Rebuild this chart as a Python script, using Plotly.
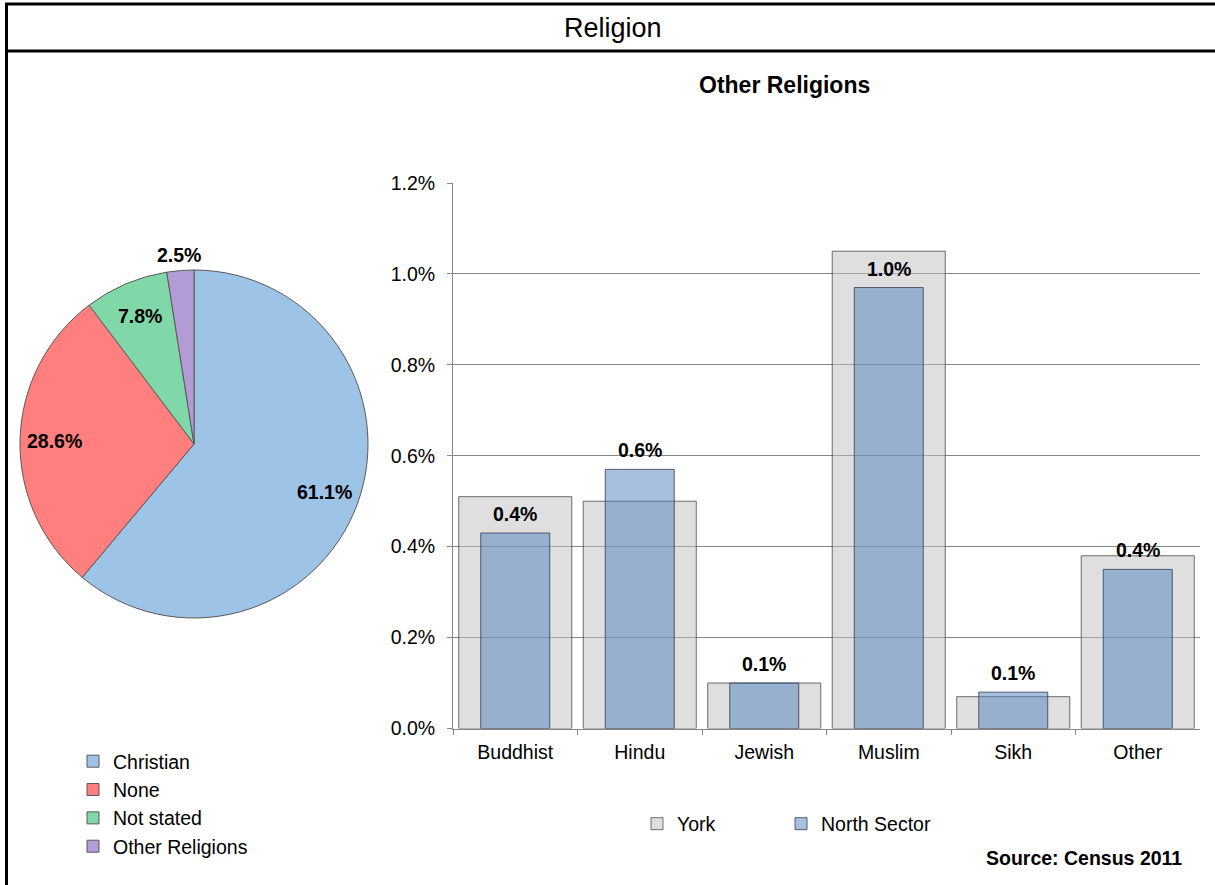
import math
import plotly.graph_objects as go

W, H = 1215, 885


def px(x):
    return x / W


def py(y):
    return 1 - y / H


FONT = "Liberation Sans, Arial, sans-serif"

# ---------------- data ----------------
pie_labels = ["Christian", "None", "Not stated", "Other Religions"]
pie_values = [61.1, 28.6, 7.8, 2.5]
pie_text = ["61.1%", "28.6%", "7.8%", "2.5%"]
pie_colors = ["#9dc3e6", "#ff7f7f", "#80d8a8", "#b39bd6"]

categories = ["Buddhist", "Hindu", "Jewish", "Muslim", "Sikh", "Other"]
york = [0.0051, 0.0050, 0.0010, 0.0105, 0.0007, 0.0038]
north = [0.0043, 0.0057, 0.0010, 0.0097, 0.0008, 0.0035]
north_labels = ["0.4%", "0.6%", "0.1%", "1.0%", "0.1%", "0.4%"]
y_ticks = [0.0, 0.002, 0.004, 0.006, 0.008, 0.010, 0.012]

# ---------------- layout geometry ----------------
pie_cx, pie_cy, pie_r = 194, 444, 174
bar_x0, bar_x1, bar_y0, bar_y1 = 453, 1200, 183, 728.5
TXT = 19.5

fig = go.Figure()

fig.add_trace(go.Pie(
    labels=pie_labels, values=pie_values,
    sort=False, direction="clockwise", rotation=0,
    marker=dict(colors=pie_colors, line=dict(color="#595959", width=1)),
    textinfo="none", hoverinfo="label+percent",
    domain=dict(x=[px(pie_cx - pie_r), px(pie_cx + pie_r)],
                y=[py(pie_cy + pie_r), py(pie_cy - pie_r)]),
    legend="legend",
))

fig.add_trace(go.Bar(
    x=categories, y=york, name="York", width=0.908,
    marker=dict(color="rgba(191,191,191,0.5)",
                line=dict(color="rgba(64,64,64,0.75)", width=1)),
    legend="legend2",
))
fig.add_trace(go.Bar(
    x=categories, y=north, name="North Sector", width=0.554,
    marker=dict(color="rgba(79,129,189,0.5)",
                line=dict(color="rgba(50,60,80,0.8)", width=1)),
    legend="legend3",
))

annotations = []

# pie percentage labels, positioned from the slice angles
total = sum(pie_values)
cum = 0.0
for v, t in zip(pie_values, pie_text):
    mid = (cum + v / 2) / total
    cum += v
    theta = 2 * math.pi * mid
    rf = 1.09 if v / total < 0.05 else 0.80
    lx = pie_cx + rf * pie_r * math.sin(theta)
    ly = pie_cy - rf * pie_r * math.cos(theta)
    annotations.append(dict(x=px(lx), y=py(ly), xref="paper", yref="paper",
                            xanchor="center", yanchor="middle",
                            text=f"<b>{t}</b>", showarrow=False,
                            font=dict(family=FONT, size=TXT, color="#000000")))

# bar value labels above North Sector bars
for c, v, t in zip(categories, north, north_labels):
    annotations.append(dict(x=c, y=v, xref="x", yref="y", text=f"<b>{t}</b>",
                            showarrow=False, xanchor="center", yanchor="middle", yshift=19,
                            font=dict(family=FONT, size=TXT, color="#000000")))

annotations += [
    dict(x=px(613), y=py(28), xref="paper", yref="paper", text="Religion",
         xanchor="center", yanchor="middle",
         showarrow=False, font=dict(family=FONT, size=27, color="#000000")),
    dict(x=px(785), y=py(85), xref="paper", yref="paper", text="<b>Other Religions</b>",
         xanchor="center", yanchor="middle",
         showarrow=False, font=dict(family=FONT, size=23, color="#000000")),
    dict(x=px(1184), y=py(858), xref="paper", yref="paper", text="<b>Source: Census 2011</b>",
         showarrow=False, xanchor="right", yanchor="middle",
         font=dict(family=FONT, size=TXT, color="#000000")),
]

shapes = [
    dict(type="line", xref="paper", yref="paper", x0=px(6.5), x1=px(6.5), y0=py(3), y1=py(885),
         line=dict(color="#000000", width=3)),
    dict(type="line", xref="paper", yref="paper", x0=px(5), x1=px(1215), y0=py(4), y1=py(4),
         line=dict(color="#000000", width=3)),
    dict(type="line", xref="paper", yref="paper", x0=px(5), x1=px(1215), y0=py(51), y1=py(51),
         line=dict(color="#000000", width=3)),
]

legend_font = dict(family=FONT, size=TXT, color="#000000")

fig.update_layout(
    width=W, height=H,
    margin=dict(l=0, r=0, t=0, b=0, autoexpand=False),
    paper_bgcolor="#ffffff", plot_bgcolor="#ffffff",
    barmode="overlay",
    font=dict(family=FONT, size=TXT, color="#000000"),
    showlegend=True,
    xaxis=dict(domain=[px(bar_x0), px(bar_x1)], showline=True, linecolor="#868686",
               linewidth=1, ticks="outside", tickson="boundaries", ticklen=5,
               tickcolor="#868686", tickfont=dict(family=FONT, size=TXT, color="#000000"),
               ticklabelstandoff=6,
               showgrid=False, fixedrange=True),
    yaxis=dict(domain=[py(bar_y1), py(bar_y0)], range=[0, 0.012], tickvals=y_ticks,
               tickformat=".1%", showline=True, linecolor="#868686", linewidth=1,
               ticks="outside", ticklen=5, tickcolor="#868686", ticklabelstandoff=8,
               showgrid=True, gridcolor="#868686", gridwidth=1, zeroline=False,
               tickfont=dict(family=FONT, size=TXT, color="#000000"), fixedrange=True),
    legend=dict(x=px(73), y=py(742), xanchor="left", yanchor="top",
                orientation="v", bgcolor="rgba(0,0,0,0)", font=legend_font, itemwidth=30),
    legend2=dict(x=px(637), y=py(824), xanchor="left", yanchor="middle",
                 orientation="h", bgcolor="rgba(0,0,0,0)", font=legend_font, itemwidth=30),
    legend3=dict(x=px(781), y=py(824), xanchor="left", yanchor="middle",
                 orientation="h", bgcolor="rgba(0,0,0,0)", font=legend_font, itemwidth=30),
    annotations=annotations,
    shapes=shapes,
)

fig.write_html("out.html")
